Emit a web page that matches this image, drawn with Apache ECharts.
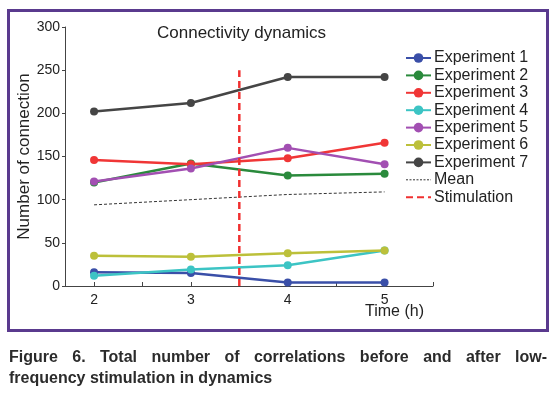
<!DOCTYPE html>
<html><head><meta charset="utf-8">
<script src="https://cdn.jsdelivr.net/npm/echarts@6/dist/echarts.min.js"></script>
<style>
html,body{margin:0;padding:0;background:#fff;}
#wrap{position:relative;width:558px;height:394px;}
#chart{position:absolute;left:0;top:0;width:558px;height:394px;}
.cap{position:absolute;left:9px;width:538px;font:bold 16px "Liberation Sans",Arial,sans-serif;color:#2b2b2b;line-height:21px;white-space:nowrap;}
#cap1{top:346px;text-align:justify;text-align-last:justify;white-space:normal;}
#cap2{top:367px;text-align:left;}
</style></head>
<body><div id="wrap"><div id="chart"></div>
<div class="cap" id="cap1">Figure 6. Total number of correlations before and after low-</div>
<div class="cap" id="cap2">frequency stimulation in dynamics</div></div>
<script>
const times = [2, 3, 4, 5];
const exp1 = [16, 15, 4, 4];
const exp2 = [120, 142, 128, 130];
const exp3 = [146, 141, 148, 166];
const exp4 = [12, 19, 24, 41];
const exp5 = [121, 136, 160, 141];
const exp6 = [35, 34, 38, 41];
const exp7 = [202, 212, 242, 242];
const meanVals = [94, 100, 106, 109];
const stimX = 3.5;
const stimY = [0, 250];
const yTicks = [0, 50, 100, 150, 200, 250, 300];
const xLabels = [2, 3, 4, 5];
const xMinorTicks = [2, 2.5, 3, 3.5, 4, 4.5, 5, 5.5];

const names = ['Experiment 1','Experiment 2','Experiment 3','Experiment 4','Experiment 5','Experiment 6','Experiment 7'];
const vals = [exp1, exp2, exp3, exp4, exp5, exp6, exp7];
const colors = ['#3a4fa8','#2a8a3c','#f03636','#3cc4c4','#a24fb2','#bcc03a','#454545'];
const font = '"Liberation Sans", Arial, sans-serif';

const series = names.map((n, i) => ({
  name: n, type: 'line',
  data: times.map((t, j) => [t, vals[i][j]]),
  symbol: 'circle', symbolSize: 8,
  itemStyle: {color: colors[i]},
  lineStyle: {color: colors[i], width: 2.5},
  z: 3
}));
series.push({
  name: 'Mean', type: 'line', data: times.map((t, j) => [t, meanVals[j]]),
  symbol: 'none', itemStyle: {color: '#333'},
  lineStyle: {color: '#333', width: 1, type: [3, 2]}, z: 2
});
series.push({
  name: 'Stimulation', type: 'line', data: stimY.map(v => [stimX, v]),
  symbol: 'none', itemStyle: {color: '#f03030'},
  lineStyle: {color: '#f03030', width: 2.5, type: [7, 4]}, z: 4
});

const legendData = names.map(n => ({name: n})).concat([
  {name: 'Mean', itemStyle: {opacity: 0}, lineStyle: {width: 1, type: [2, 1.5]}},
  {name: 'Stimulation', itemStyle: {opacity: 0}}
]);

const chart = echarts.init(document.getElementById('chart'));
chart.setOption({
  animation: false,
  textStyle: {fontFamily: font},
  graphic: [
    {type: 'rect', shape: {x: 8.5, y: 10.5, width: 539, height: 320},
      style: {fill: 'none', stroke: '#5a3a8e', lineWidth: 3}},
    {type: 'text', left: 365, top: 304,
      style: {text: 'Time (h)', font: '16px "Liberation Sans", Arial, sans-serif', fill: '#222'}}
  ],
  title: {text: 'Connectivity dynamics', left: 152, top: 20,
    textStyle: {fontFamily: font, fontSize: 17, fontWeight: 'normal', color: '#222'}},
  legend: {
    orient: 'vertical', left: 400, top: 45, itemWidth: 25, itemHeight: 12, itemGap: 1.4,
    textStyle: {fontFamily: font, fontSize: 16, lineHeight: 16, color: '#222', padding: [0,0,0,-2]},
    data: legendData
  },
  grid: {left: 65, right: 125, top: 27, bottom: 108, containLabel: false},
  xAxis: {
    type: 'value', min: 1.7, max: 5.5,
    axisLine: {lineStyle: {color: '#444', width: 1}},
    axisTick: {inside: true, length: 4, customValues: xMinorTicks, lineStyle: {color: '#444'}},
    axisLabel: {customValues: xLabels, fontSize: 14, color: '#222', margin: 7},
    splitLine: {show: false}
  },
  yAxis: {
    type: 'value', min: 0, max: 300, interval: 50,
    name: 'Number of connection', nameLocation: 'middle', nameGap: 32, nameMoveOverlap: false,
    nameTextStyle: {fontFamily: font, fontSize: 17, color: '#222'},
    axisLine: {show: true, lineStyle: {color: '#444', width: 1}},
    axisTick: {show: true, length: 3, lineStyle: {color: '#444'}},
    axisLabel: {customValues: yTicks, fontSize: 14, color: '#222', margin: 5},
    splitLine: {show: false}
  },
  series: series
});
</script></body></html>
